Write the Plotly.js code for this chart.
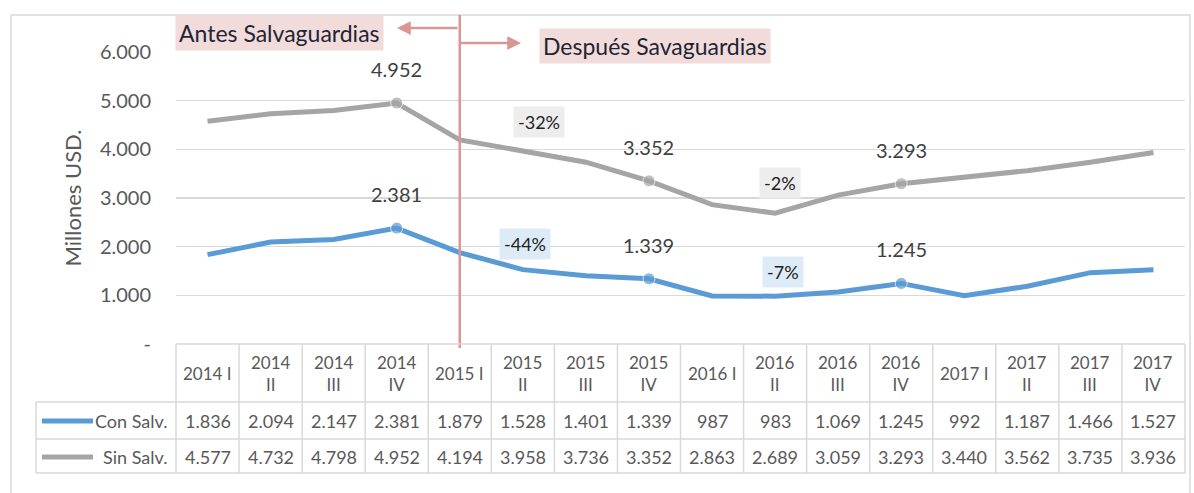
<!DOCTYPE html>
<html>
<head>
<meta charset="utf-8">
<script src="https://cdn.plot.ly/plotly-3.0.1.min.js"></script>
<style>html,body{margin:0;padding:0;background:#fff;}</style>
</head>
<body>
<div id="chart" style="width:1194px;height:493px;"></div>
<script>
// ---- data ----
const categories = ["2014 I","2014 II","2014 III","2014 IV","2015 I","2015 II","2015 III","2015 IV",
                    "2016 I","2016 II","2016 III","2016 IV","2017 I","2017 II","2017 III","2017 IV"];
const headerLabels = ["2014 I","2014<br>II","2014<br>III","2014<br>IV","2015 I","2015<br>II","2015<br>III","2015<br>IV",
                      "2016 I","2016<br>II","2016<br>III","2016<br>IV","2017 I","2017<br>II","2017<br>III","2017<br>IV"];
const conSalv = [1836,2094,2147,2381,1879,1528,1401,1339,987,983,1069,1245,992,1187,1466,1527];
const sinSalv = [4577,4732,4798,4952,4194,3958,3736,3352,2863,2689,3059,3293,3440,3562,3735,3936];
const seriesNames = ["Con Salv.","Sin Salv."];
const labeledIdx = [3,7,11];
const yTickVals = [0,1000,2000,3000,4000,5000,6000];
const yTickText = ["-","1.000","2.000","3.000","4.000","5.000","6.000"];
const pctLabels = [
  {text:"-32%", x:5.26, y:4560, kind:"sin"},
  {text:"-44%", x:5.03, y:2050, kind:"con"},
  {text:"-2%",  x:9.08, y:3310, kind:"sin"},
  {text:"-7%",  x:9.12, y:1480, kind:"con"}
];
const dividerCat = 4;

// ---- styling ----
const BLUE = "#5B9BD5", GRAY = "#A5A5A5", RED = "#DA9694", GRID = "#D9D9D9", TXT = "#595959";
const FONT = "Lato, 'Open Sans', sans-serif";
const fmt = n => String(n).replace(/\B(?=(\d{3})+(?!\d))/g, ".");

// pixel helpers for paper coords
const L = 176, R = 1185, T = 52, B = 344;
const px = p => (p - L) / (R - L);
const py = p => (B - p) / (B - T);

function markerSizes(){ return categories.map((c,i)=> labeledIdx.includes(i) ? 12 : 0); }

const traces = [
  {x:categories, y:sinSalv, name:seriesNames[1], type:"scatter", mode:"lines+markers",
   line:{color:GRAY,width:5}, marker:{color:GRAY,size:markerSizes()}, showlegend:false, hoverinfo:"x+y"},
  {x:categories, y:conSalv, name:seriesNames[0], type:"scatter", mode:"lines+markers",
   line:{color:BLUE,width:5}, marker:{color:BLUE,size:markerSizes()}, showlegend:false, hoverinfo:"x+y"}
];

const annotations = [];
const shapes = [];
const C = {xanchor:"center", yanchor:"middle", showarrow:false};

// data labels
labeledIdx.forEach(i=>{
  [sinSalv, conSalv].forEach(arr=>{
    annotations.push(Object.assign({x:categories[i], y:arr[i], xref:"x", yref:"y", text:fmt(arr[i]),
      yshift:34, font:{family:FONT,size:20,color:"#404040"}}, C));
  });
});

// pct labels
pctLabels.forEach(p=>{
  annotations.push(Object.assign({x:p.x, y:p.y, xref:"x", yref:"y", text:p.text,
    bgcolor: p.kind==="sin" ? "#EDEDED" : "#DDEBF7", borderpad:4,
    font:{family:FONT,size:18,color:"#222222"}}, C));
});

// Antes / Despues boxes and arrows
annotations.push(Object.assign({x:px(279), y:py(33), xref:"paper", yref:"paper", text:"Antes Salvaguardias",
  bgcolor:"#F2DCDB", borderpad:3, font:{family:FONT,size:23,color:"#1E2533"}}, C));
annotations.push(Object.assign({x:px(655), y:py(46), xref:"paper", yref:"paper", text:"Después Savaguardias",
  bgcolor:"#F2DCDB", borderpad:3, font:{family:FONT,size:23,color:"#1E2533"}}, C));
annotations.push({x:px(397), y:py(28), xref:"paper", yref:"paper", text:"", showarrow:true,
  ax:62, ay:0, axref:"pixel", ayref:"pixel", arrowhead:2, arrowsize:1.1, arrowwidth:2.5, arrowcolor:RED});
annotations.push({x:px(521), y:py(43), xref:"paper", yref:"paper", text:"", showarrow:true,
  ax:-62, ay:0, axref:"pixel", ayref:"pixel", arrowhead:2, arrowsize:1.1, arrowwidth:2.5, arrowcolor:RED});

// outer chart border
shapes.push({type:"rect", xref:"paper", yref:"paper", x0:px(11), x1:px(1190), y0:py(15), y1:py(520),
  line:{color:GRID,width:1.5}, layer:"below"});

// divider line
shapes.push({type:"line", xref:"x", yref:"paper", x0:dividerCat, x1:dividerCat, y0:py(15), y1:py(348),
  line:{color:RED,width:2.5}});

// data table
const yHdrTop = py(344), yRow1 = py(402), yRow2 = py(439), yBot = py(473);
for (let i=0;i<=categories.length;i++){
  shapes.push({type:"line", xref:"paper", yref:"paper", x0:i/categories.length, x1:i/categories.length,
    y0:yHdrTop, y1:yBot, line:{color:GRID,width:1.5}});
}
shapes.push({type:"line", xref:"paper", yref:"paper", x0:px(36), x1:px(36), y0:yRow1, y1:yBot, line:{color:GRID,width:1.5}});
shapes.push({type:"line", xref:"paper", yref:"paper", x0:0, x1:1, y0:yHdrTop, y1:yHdrTop, line:{color:GRID,width:1.5}});
[yRow1,yRow2,yBot].forEach(y=>shapes.push({type:"line", xref:"paper", yref:"paper", x0:px(36), x1:1, y0:y, y1:y, line:{color:GRID,width:1.5}}));

categories.forEach((c,i)=>{
  annotations.push(Object.assign({x:c, y:py(373), xref:"x", yref:"paper", text:headerLabels[i],
    font:{family:FONT,size:17,color:TXT}}, C));
  annotations.push(Object.assign({x:c, y:py(421), xref:"x", yref:"paper", text:fmt(conSalv[i]),
    font:{family:FONT,size:18,color:TXT}}, C));
  annotations.push(Object.assign({x:c, y:py(457), xref:"x", yref:"paper", text:fmt(sinSalv[i]),
    font:{family:FONT,size:18,color:TXT}}, C));
});
// row legend keys
[[seriesNames[0],BLUE,421],[seriesNames[1],GRAY,457]].forEach(([nm,col,yy])=>{
  shapes.push({type:"line", xref:"paper", yref:"paper", x0:px(42), x1:px(93), y0:py(yy), y1:py(yy), line:{color:col,width:5}});
  annotations.push({x:px(169), y:py(yy), xref:"paper", yref:"paper", xanchor:"right", yanchor:"middle", text:nm, showarrow:false,
    font:{family:FONT,size:18,color:TXT}});
});

const layout = {
  width:1194, height:493,
  margin:{l:L, r:1194-R, t:T, b:493-B},
  paper_bgcolor:"#ffffff", plot_bgcolor:"#ffffff",
  font:{family:FONT,color:TXT},
  showlegend:false,
  xaxis:{type:"category", range:[-0.5,15.5], showticklabels:false, showgrid:false, zeroline:false, showline:false, fixedrange:true},
  yaxis:{range:[0,6000], tickvals:yTickVals, ticktext:yTickText, showgrid:true, gridcolor:GRID, gridwidth:1.5,
    zeroline:false, showline:false, ticks:"", ticklabelstandoff:24, automargin:false,
    tickfont:{family:FONT,size:20,color:TXT},
    title:{text:"Millones USD.", font:{family:FONT,size:22,color:TXT}, standoff:12}},
  shapes:shapes,
  annotations:annotations
};

Plotly.newPlot("chart", traces, layout, {displayModeBar:false, staticPlot:true});
</script>
</body>
</html>
